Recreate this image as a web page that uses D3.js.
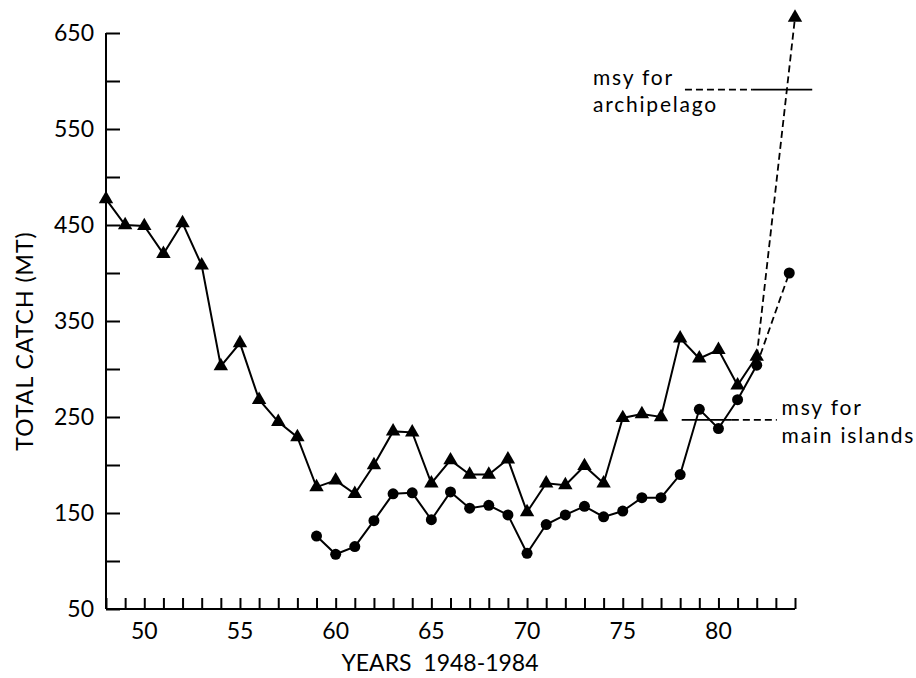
<!DOCTYPE html>
<html>
<head>
<meta charset="utf-8">
<script src="https://cdn.jsdelivr.net/npm/d3@7"></script>
<style>
  html, body { margin: 0; padding: 0; background: #fff; }
  svg { display: block; }
  text { font-family: Lato, "DejaVu Sans", sans-serif; fill: #000; }
</style>
</head>
<body>
<svg id="chart" width="916" height="678"></svg>
<script>
// ---- data ----
const archYears = [48,49,50,51,52,53,54,55,56,57,58,59,60,61,62,63,64,65,66,67,68,69,70,71,72,73,74,75,76,77,78,79,80,81,82];
const archCatch = [477,450,449,420,452,408,303,327,268,245,229,177,184,170,200,235,234,181,205,190,190,206,151,181,179,199,181,249,253,250,332,311,320,283,313];
const archProjYears = [82, 84];
const archProjCatch = [313, 666];

const mainYears = [59,60,61,62,63,64,65,66,67,68,69,70,71,72,73,74,75,76,77,78,79,80,81,82];
const mainCatch = [126,107,115,142,170,171,143,172,155,158,148,108,138,148,157,146,152,166,166,190,258,238,268,304];
const mainProjYears = [82, 83.7];
const mainProjCatch = [304, 400];

const yTicks = [50,100,150,200,250,300,350,400,450,500,550,600,650];
const yTickLabels = ["50","","150","","250","","350","","450","","550","","650"];
const xTicks = d3.range(48, 85);
const xTickLabels = ["50","55","60","65","70","75","80"];

const msyArchipelago = 591;
const msyMainIslands = 247;
const yLabel = "TOTAL CATCH (MT)";
const xLabel = "YEARS  1948-1984";

// ---- scales ----
const svg = d3.select("#chart");
const x = d3.scaleLinear().domain([48, 84]).range([106, 795]);
const y = d3.scaleLinear().domain([50, 650]).range([609, 33]);

// ---- axes ----
const yAxis = d3.axisRight(y).tickValues(yTicks).tickSize(14).tickFormat(() => "");
const gy = svg.append("g").attr("transform", `translate(${x(48)},0)`).call(yAxis);
gy.select(".domain").attr("d", `M0,${y(650)}V${y(50)}`).attr("stroke-width", 2);
gy.selectAll(".tick line").attr("stroke-width", 2);

// y tick labels (left of axis)
svg.append("g").selectAll("text").data(yTicks.map((v, i) => ({v, l: yTickLabels[i]})))
  .join("text")
  .attr("x", x(48) - 12)
  .attr("y", d => y(d.v))
  .attr("dy", "0.36em")
  .attr("text-anchor", "end")
  .style("font-size", "23px")
  .text(d => d.l);

const xAxis = d3.axisTop(x).tickValues(xTicks).tickSize(11).tickFormat(() => "");
const gx = svg.append("g").attr("transform", `translate(0,${y(50)})`).call(xAxis);
gx.select(".domain").attr("d", `M${x(48)},0H${x(84)}`).attr("stroke-width", 2);
gx.selectAll(".tick line").attr("stroke-width", 2);

svg.append("g").selectAll("text").data(xTickLabels)
  .join("text")
  .attr("x", d => x(+d))
  .attr("y", y(50) + 30)
  .attr("text-anchor", "middle")
  .style("font-size", "23px")
  .text(d => d);

// axis titles
svg.append("text")
  .attr("transform", `translate(33,${(y(50)+y(650))/2 + 20}) rotate(-90)`)
  .attr("text-anchor", "middle")
  .style("font-size", "23px")
  .style("letter-spacing", "1px")
  .text(yLabel);

svg.append("text")
  .attr("x", 440)
  .attr("y", 671)
  .attr("text-anchor", "middle")
  .style("font-size", "23px")
  .style("white-space", "pre")
  .attr("xml:space", "preserve")
  .text(xLabel);

// ---- msy reference lines ----
const annStyle = sel => sel.style("font-size", "21px").style("letter-spacing", "1.8px");
// archipelago: dashed then solid
svg.append("line")
  .attr("x1", x(78.25)).attr("x2", x(81.8))
  .attr("y1", y(msyArchipelago)).attr("y2", y(msyArchipelago))
  .attr("stroke", "#000").attr("stroke-width", 1.8).attr("stroke-dasharray", "7,4");
svg.append("line")
  .attr("x1", x(81.8)).attr("x2", x(84.9))
  .attr("y1", y(msyArchipelago)).attr("y2", y(msyArchipelago))
  .attr("stroke", "#000").attr("stroke-width", 1.8);
svg.append("text").attr("x", x(73.44)).attr("y", y(msyArchipelago) - 5)
  .call(annStyle).text("msy for");
svg.append("text").attr("x", x(73.44)).attr("y", y(msyArchipelago) + 22)
  .call(annStyle).text("archipelago");

// main islands: solid then dashed
svg.append("line")
  .attr("x1", x(78.08)).attr("x2", x(80.7))
  .attr("y1", y(msyMainIslands)).attr("y2", y(msyMainIslands))
  .attr("stroke", "#000").attr("stroke-width", 1.8);
svg.append("line")
  .attr("x1", x(80.7)).attr("x2", x(83.05))
  .attr("y1", y(msyMainIslands)).attr("y2", y(msyMainIslands))
  .attr("stroke", "#000").attr("stroke-width", 1.8).attr("stroke-dasharray", "7,4");
svg.append("text").attr("x", x(83.3)).attr("y", y(msyMainIslands) - 5)
  .call(annStyle).text("msy for");
svg.append("text").attr("x", x(83.3)).attr("y", y(msyMainIslands) + 23)
  .call(annStyle).text("main islands");

// ---- series ----
const line = d3.line().x(d => x(d[0])).y(d => y(d[1]));
const arch = archYears.map((yr, i) => [yr, archCatch[i]]);
const main = mainYears.map((yr, i) => [yr, mainCatch[i]]);
const archProj = archProjYears.map((yr, i) => [yr, archProjCatch[i]]);
const mainProj = mainProjYears.map((yr, i) => [yr, mainProjCatch[i]]);

svg.append("path").datum(arch).attr("d", line)
  .attr("fill", "none").attr("stroke", "#000").attr("stroke-width", 2);
svg.append("path").datum(main).attr("d", line)
  .attr("fill", "none").attr("stroke", "#000").attr("stroke-width", 2);
svg.append("path").datum(archProj).attr("d", line)
  .attr("fill", "none").attr("stroke", "#000").attr("stroke-width", 1.8).attr("stroke-dasharray", "7,4");
svg.append("path").datum(mainProj).attr("d", line)
  .attr("fill", "none").attr("stroke", "#000").attr("stroke-width", 1.8).attr("stroke-dasharray", "7,4");

const tri = d3.symbol().type(d3.symbolTriangle).size(90);
svg.append("g").selectAll("path").data(arch.concat([archProj[1]]))
  .join("path")
  .attr("d", tri)
  .attr("transform", d => `translate(${x(d[0])},${y(d[1])})`)
  .attr("fill", "#000");

svg.append("g").selectAll("circle").data(main.concat([mainProj[1]]))
  .join("circle")
  .attr("cx", d => x(d[0])).attr("cy", d => y(d[1]))
  .attr("r", 5.5).attr("fill", "#000");
</script>
</body>
</html>
